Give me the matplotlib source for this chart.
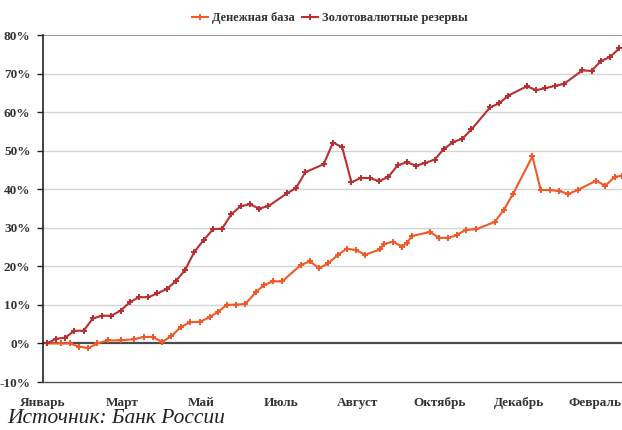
import matplotlib
matplotlib.use("Agg")
import matplotlib.pyplot as plt
from matplotlib.ticker import FuncFormatter

# x in weeks from the start of the period
reserves_weeks = [0, 1, 2, 3, 4, 5, 6, 7, 8, 9, 10, 11, 12, 13, 14, 15, 16, 17, 18, 19,
                  20, 21, 22, 23, 24, 26, 27, 28, 30, 31, 32, 33, 34, 35, 36, 37, 38, 39,
                  40, 41, 42, 43, 44, 45, 46, 48, 49, 50, 52, 53, 54, 55, 56, 58, 59, 60, 61, 62]
reserves = [0.0, 1.2, 1.5, 3.3, 3.3, 6.5, 7.2, 7.2, 8.5, 10.7, 12.0, 12.0, 13.0, 14.1, 16.2,
            19.1, 23.8, 26.8, 29.6, 29.8, 33.5, 35.6, 36.1, 35.0, 35.6, 38.9, 40.3, 44.4,
            46.5, 52.1, 50.9, 41.8, 42.9, 42.9, 42.1, 43.2, 46.2, 47.0, 46.1, 46.8, 47.7,
            50.4, 52.2, 53.1, 55.5, 61.2, 62.3, 64.3, 66.7, 65.7, 66.2, 66.8, 67.3, 70.8,
            70.7, 73.2, 74.3, 76.5]

base_weeks = [0, 1.5, 2.5, 3.5, 4.5, 5.5, 6.6, 8.0, 9.5, 10.5, 11.5, 12.5, 13.5, 14.5, 15.5,
              16.6, 17.7, 18.5, 19.5, 20.5, 21.5, 22.7, 23.5, 24.5, 25.5, 27.5, 28.5, 29.5,
              30.5, 31.5, 32.5, 33.5, 34.5, 36.1, 36.5, 37.5, 38.5, 39.0, 39.6, 41.5, 42.5,
              43.5, 44.4, 45.4, 46.5, 48.5, 49.5, 50.5, 52.6, 53.5, 54.5, 55.5, 56.5, 57.5,
              59.5, 60.5, 61.5, 62.3]
base = [0.0, 0.0, 0.0, -0.8, -1.2, 0.0, 0.8, 0.8, 1.1, 1.7, 1.7, 0.4, 1.9, 4.2, 5.5, 5.6,
        6.9, 8.1, 10.0, 10.1, 10.2, 13.4, 15.1, 16.1, 16.1, 20.3, 21.3, 19.5, 20.8, 22.9,
        24.6, 24.2, 23.0, 24.4, 25.8, 26.4, 25.1, 26.1, 27.9, 28.9, 27.4, 27.4, 28.1, 29.5,
        29.6, 31.5, 34.6, 38.8, 48.5, 39.8, 39.8, 39.5, 38.8, 39.8, 42.2, 40.9, 43.2, 43.5]

month_labels = ["Январь", "Март", "Май", "Июль", "Август", "Октябрь", "Декабрь", "Февраль"]
month_pos = [-0.4, 8.2, 16.7, 25.4, 33.7, 42.5, 51.1, 59.4]
yticks = [-10, 0, 10, 20, 30, 40, 50, 60, 70, 80]

serif = ["Liberation Serif", "DejaVu Serif"]
plt.rcParams["font.family"] = serif

fig = plt.figure(figsize=(6.22, 4.30), dpi=100)
ax = fig.add_axes([0.0691, 0.1116, 0.9309, 0.807])

for y in yticks:
    if y in (0, -10, 80):
        continue
    ax.axhline(y, color="#d4d4d4", lw=1.0, zorder=1)
ax.axhline(80, color="#8a8a8a", lw=1.2, zorder=1)
ax.axhline(0, color="#4a4a4a", lw=1.6, zorder=2)

ax.plot(base_weeks, base, color="#f05a28", lw=1.5, marker="P", ms=4.4,
        markeredgewidth=0, label="Денежная база", zorder=3, clip_on=False)
ax.plot(reserves_weeks, reserves, color="#b8302f", lw=1.5, marker="P", ms=4.4,
        markeredgewidth=0, label="Золотовалютные резервы", zorder=4, clip_on=False)

ax.set_xlim(-0.4, 62.3)
ax.set_ylim(-10, 80)
ax.set_yticks(yticks)
ax.yaxis.set_major_formatter(FuncFormatter(lambda v, p: f"{int(v)}%"))
ax.set_xticks(month_pos)
ax.set_xticklabels(month_labels)

for lab in ax.get_yticklabels():
    lab.set_fontweight("bold")
    lab.set_fontsize(9.5)
    lab.set_color("#333333")
for lab in ax.get_xticklabels():
    lab.set_fontweight("bold")
    lab.set_fontsize(9.5)
    lab.set_color("#333333")

ax.tick_params(axis="y", length=4, width=1, color="#222222", pad=5)
ax.tick_params(axis="x", length=0, pad=11)

ax.spines["left"].set_color("#222222")
ax.spines["left"].set_linewidth(1.2)
ax.spines["bottom"].set_color("#555555")
ax.spines["bottom"].set_linewidth(1.0)
ax.spines["top"].set_visible(False)
ax.spines["right"].set_visible(False)

leg = fig.legend(loc="center", bbox_to_anchor=(0.53, 0.958), ncol=2, frameon=False,
                 handlelength=1.3, handletextpad=0.3, columnspacing=0.6,
                 prop={"family": serif, "weight": "bold", "size": 9})
for t in leg.get_texts():
    t.set_color("#333333")

fig.text(0.011, 0.005, "Источник: Банк России", fontsize=15.5, style="italic",
         family=serif, color="#222222", ha="left", va="bottom")

fig.savefig("out.png", dpi=100)
